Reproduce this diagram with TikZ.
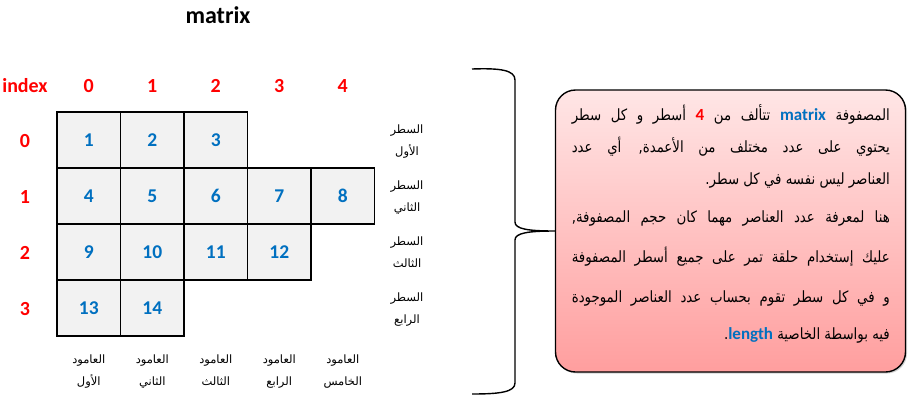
\documentclass[tikz,border=0pt]{standalone}
\usepackage{fontspec}
\setmainfont{Carlito}
\newfontfamily\arabicfont[Script=Arabic]{DejaVu Sans}
\newfontfamily\arabicbox[Script=Arabic,FakeStretch=0.86]{DejaVu Sans}
\TeXXeTstate=1
\usetikzlibrary{shadows}
\definecolor{idxred}{HTML}{FF0000}
\definecolor{numblue}{HTML}{0070C0}
\definecolor{cellgray}{HTML}{F2F2F2}
\definecolor{boxtop}{HTML}{FFE6E6}
\definecolor{boxbot}{HTML}{FF9E9E}
\newcommand{\arl}[1]{{\arabicfont\beginR #1\endR}}
\newcommand{\arb}[1]{{\arabicbox\beginR #1\endR}}
\newcommand{\hlb}[1]{{\normalfont\bfseries\fontsize{17}{18}\selectfont\color{numblue}#1}}
\newcommand{\hlr}[1]{{\normalfont\bfseries\fontsize{17}{18}\selectfont\color{idxred}#1}}
\begin{document}
\begin{tikzpicture}[x=1pt,y=-1pt,
  cell/.style={draw=black, line width=1.6pt, fill=cellgray, minimum width=63.5pt,
    minimum height=56pt, inner sep=0pt, text=numblue, font=\fontsize{19.5}{22}\selectfont\bfseries},
  idx/.style={text=idxred, font=\fontsize{20}{22}\selectfont\bfseries, inner sep=0pt},
  lbl/.style={font=\arabicfont\fontsize{11.5}{21.5}\selectfont, align=center, inner sep=0pt,
    text height=9pt, text depth=3pt},
  infobox/.style={draw=black, line width=1.4pt, rounded corners=20pt,
    top color=boxtop, bottom color=boxbot, minimum width=350pt, minimum height=282pt,
    drop shadow={shadow xshift=1.5pt, shadow yshift=-1.5pt, opacity=0.35}},
  txt/.style={font=\arabicbox\fontsize{15.5}{17}\selectfont, inner sep=0pt, anchor=east},
  bracestyle/.style={draw=black, line width=1.4pt}
]
\useasboundingbox (0,0) rectangle (910,400);

\node[font=\fontsize{24}{28}\selectfont\bfseries] (title) at (218,15) {matrix};

% index labels
\node[idx] (ix) at (25,86) {index};
\foreach \c in {0,...,4} {
  \node[idx] (ci\c) at (88.75+63.5*\c,86) {\c};
}
\foreach \r in {0,...,3} {
  \node[idx] (ri\r) at (25,141+56*\r) {\r};
}

% cells
\node[cell] (c00) at (88.75,140) {1};
\node[cell] (c01) at (152.25,140) {2};
\node[cell] (c02) at (215.75,140) {3};
\node[cell] (c10) at (88.75,196) {4};
\node[cell] (c11) at (152.25,196) {5};
\node[cell] (c12) at (215.75,196) {6};
\node[cell] (c13) at (279.25,196) {7};
\node[cell] (c14) at (342.75,196) {8};
\node[cell] (c20) at (88.75,252) {9};
\node[cell] (c21) at (152.25,252) {10};
\node[cell] (c22) at (215.75,252) {11};
\node[cell] (c23) at (279.25,252) {12};
\node[cell] (c30) at (88.75,308) {13};
\node[cell] (c31) at (152.25,308) {14};

% row labels
\node[lbl] (rl0) at (407,152) {\arl{السطر}\\\arl{الأول}};
\node[lbl] (rl1) at (407,208) {\arl{السطر}\\\arl{الثاني}};
\node[lbl] (rl2) at (407,264) {\arl{السطر}\\\arl{الثالث}};
\node[lbl] (rl3) at (407,320) {\arl{السطر}\\\arl{الرابع}};

% column labels
\node[lbl] (cl0) at (88.75,382) {\arl{العامود}\\\arl{الأول}};
\node[lbl] (cl1) at (152.25,382) {\arl{العامود}\\\arl{الثاني}};
\node[lbl] (cl2) at (215.75,382) {\arl{العامود}\\\arl{الثالث}};
\node[lbl] (cl3) at (279.25,382) {\arl{العامود}\\\arl{الرابع}};
\node[lbl] (cl4) at (342.75,382) {\arl{العامود}\\\arl{الخامس}};

% info box
\node[infobox] (info) at (730.5,231) {};

% brace
\coordinate (btop) at (472,69);
\coordinate (bbot) at (472,394);
\draw[bracestyle] (btop) .. controls (500,68) and (515,70) .. (515,80) -- (515,222)
  .. controls (515,229) and (528,231) .. (info.west)
  .. controls (528,231) and (515,233) .. (515,240) -- (515,383)
  .. controls (515,392) and (500,394) .. (bbot);

% text lines
\node[txt] (t1) at (890,114) {\makebox[318pt][s]{\arb{أسطر و كل سطر} \hlr{4} \arb{تتألف من} \hlb{matrix} \arb{المصفوفة}}};
\node[txt] (t2) at (890,147) {\makebox[318pt][s]{\arb{يحتوي على عدد مختلف من الأعمدة, أي عدد}}};
\node[txt] (t3) at (890,180) {\arb{العناصر ليس نفسه في كل سطر.}};
\node[txt] (t4) at (890,218) {\makebox[318pt][s]{\arb{هنا لمعرفة عدد العناصر مهما كان حجم المصفوفة,}}};
\node[txt] (t5) at (890,257) {\makebox[318pt][s]{\arb{عليك إستخدام حلقة تمر على جميع أسطر المصفوفة}}};
\node[txt] (t6) at (890,298) {\makebox[318pt][s]{\arb{و في كل سطر تقوم بحساب عدد العناصر الموجودة}}};
\node[txt] (t7) at (890,335) {.\hlb{length} \arb{فيه بواسطة الخاصية}};
\end{tikzpicture}
\end{document}
